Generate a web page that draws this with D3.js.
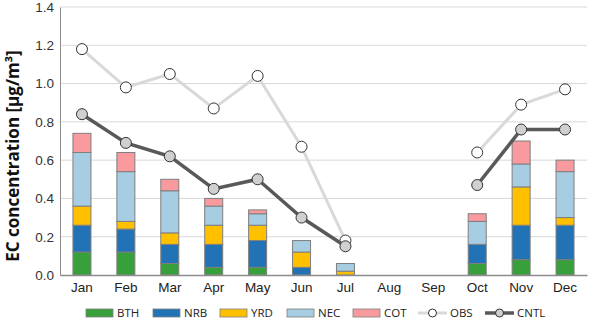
<!DOCTYPE html>
<html>
<head>
<meta charset="utf-8">
<script src="https://cdn.jsdelivr.net/npm/d3@7"></script>
<style>
  body { margin: 0; background: #fff; }
  svg { font-family: "Open Sans", sans-serif; }
</style>
</head>
<body>
<svg id="chart" width="590" height="326"></svg>
<script>
const months = ["Jan", "Feb", "Mar", "Apr", "May", "Jun", "Jul", "Aug", "Sep", "Oct", "Nov", "Dec"];
const regions = ["BTH", "NRB", "YRD", "NEC", "COT"];
const regionColors = ["#37a03a", "#2173b6", "#ffc000", "#a6cde2", "#f99a9e"];

// contribution of each source region (µg/m³), stacked per month
const BTH = [0.12, 0.12, 0.06, 0.04, 0.04, 0.00, 0.00, null, null, 0.06, 0.08, 0.08];
const NRB = [0.14, 0.12, 0.10, 0.12, 0.14, 0.04, 0.00, null, null, 0.10, 0.18, 0.18];
const YRD = [0.10, 0.04, 0.06, 0.10, 0.08, 0.08, 0.02, null, null, 0.00, 0.20, 0.04];
const NEC = [0.28, 0.26, 0.22, 0.10, 0.06, 0.06, 0.04, null, null, 0.12, 0.12, 0.24];
const COT = [0.10, 0.10, 0.06, 0.04, 0.02, 0.00, 0.00, null, null, 0.04, 0.12, 0.06];

const OBS  = [1.18, 0.98, 1.05, 0.87, 1.04, 0.67, 0.18, null, null, 0.64, 0.89, 0.97];
const CNTL = [0.84, 0.69, 0.62, 0.45, 0.50, 0.30, 0.15, null, null, 0.47, 0.76, 0.76];

const yTicks = [0, 0.2, 0.4, 0.6, 0.8, 1.0, 1.2, 1.4];

const svg = d3.select("#chart");
const margin = { top: 7, right: 3, bottom: 51, left: 60 };
const width = 590 - margin.left - margin.right;
const height = 326 - margin.top - margin.bottom;

const g = svg.append("g").attr("transform", `translate(${margin.left},${margin.top})`);

const x = d3.scaleBand().domain(months).range([0, width]).paddingInner(0.59).paddingOuter(0.295);
const y = d3.scaleLinear().domain([0, 1.4]).range([height, 0]);

// gridlines
g.append("g")
  .selectAll("line")
  .data(yTicks.slice(1))
  .join("line")
  .attr("x1", 0).attr("x2", width)
  .attr("y1", d => y(d)).attr("y2", d => y(d))
  .attr("stroke", "#d9d9d9").attr("stroke-width", 1);

// stacked bars
const table = months.map((m, i) => {
  const row = { month: m };
  [BTH, NRB, YRD, NEC, COT].forEach((arr, k) => row[regions[k]] = arr[i] || 0);
  return row;
});
const stacked = d3.stack().keys(regions)(table);

g.append("g")
  .selectAll("g")
  .data(stacked)
  .join("g")
  .attr("fill", (d, i) => regionColors[i])
  .selectAll("rect")
  .data(d => d.filter(s => s[1] - s[0] > 0))
  .join("rect")
  .attr("x", d => x(d.data.month))
  .attr("width", x.bandwidth())
  .attr("y", d => y(d[1]))
  .attr("height", d => y(d[0]) - y(d[1]))
  .attr("stroke", "#7f7f7f")
  .attr("stroke-width", 1);

// axes
const yAxis = g.append("g")
  .call(d3.axisLeft(y).tickValues(yTicks).tickFormat(d3.format(".1f")).tickSize(0).tickPadding(6));
yAxis.select(".domain").attr("stroke", "#8c8c8c");
yAxis.selectAll("text").attr("font-size", 13.5).attr("fill", "#333");

const xAxis = g.append("g")
  .attr("transform", `translate(0,${height})`)
  .call(d3.axisBottom(x).tickSize(0).tickPadding(7));
xAxis.select(".domain").attr("stroke", "#8c8c8c").attr("stroke-width", 1.3);
xAxis.selectAll("text").attr("font-size", 13.5).attr("fill", "#222");

// model / observation lines
const cx = m => x(m) + x.bandwidth() / 2;
const line = d3.line()
  .defined(d => d.v != null)
  .x(d => cx(d.m))
  .y(d => y(d.v));

const series = [
  { key: "OBS", values: OBS, stroke: "#d9d9d9", width: 3, fill: "#ffffff" },
  { key: "CNTL", values: CNTL, stroke: "#595959", width: 3.5, fill: "#d0d0d0" }
];

series.forEach(s => {
  const pts = months.map((m, i) => ({ m, v: s.values[i] }));
  g.append("path")
    .datum(pts)
    .attr("fill", "none")
    .attr("stroke", s.stroke)
    .attr("stroke-width", s.width)
    .attr("d", line);
  g.append("g")
    .selectAll("circle")
    .data(pts.filter(d => d.v != null))
    .join("circle")
    .attr("cx", d => cx(d.m))
    .attr("cy", d => y(d.v))
    .attr("r", 5.5)
    .attr("fill", s.fill)
    .attr("stroke", "#333")
    .attr("stroke-width", 1);
});

// y-axis title
svg.append("text")
  .attr("transform", "translate(19,156) rotate(-90)")
  .attr("text-anchor", "middle")
  .attr("font-size", 17)
  .attr("font-weight", "bold")
  .attr("fill", "#111")
  .text("EC concentration [μg/m³]");

// legend
const legend = svg.append("g").attr("transform", "translate(0,313)");
const swatchX = [86, 153, 220, 287, 353];
regions.forEach((r, i) => {
  legend.append("rect")
    .attr("x", swatchX[i]).attr("y", -4)
    .attr("width", 27).attr("height", 8)
    .attr("fill", regionColors[i])
    .attr("stroke", "#7f7f7f").attr("stroke-width", 0.8);
  legend.append("text")
    .attr("x", swatchX[i] + 31).attr("y", 4)
    .attr("font-size", 11.5).attr("fill", "#222")
    .text(r);
});
const lineX = [418, 485];
series.forEach((s, i) => {
  legend.append("line")
    .attr("x1", lineX[i]).attr("x2", lineX[i] + 29)
    .attr("stroke", s.stroke).attr("stroke-width", s.width);
  legend.append("circle")
    .attr("cx", lineX[i] + 14.5).attr("r", 4)
    .attr("fill", s.fill).attr("stroke", "#333").attr("stroke-width", 1);
  legend.append("text")
    .attr("x", lineX[i] + 32).attr("y", 4)
    .attr("font-size", 11.5).attr("fill", "#222")
    .text(s.key);
});
</script>
</body>
</html>
